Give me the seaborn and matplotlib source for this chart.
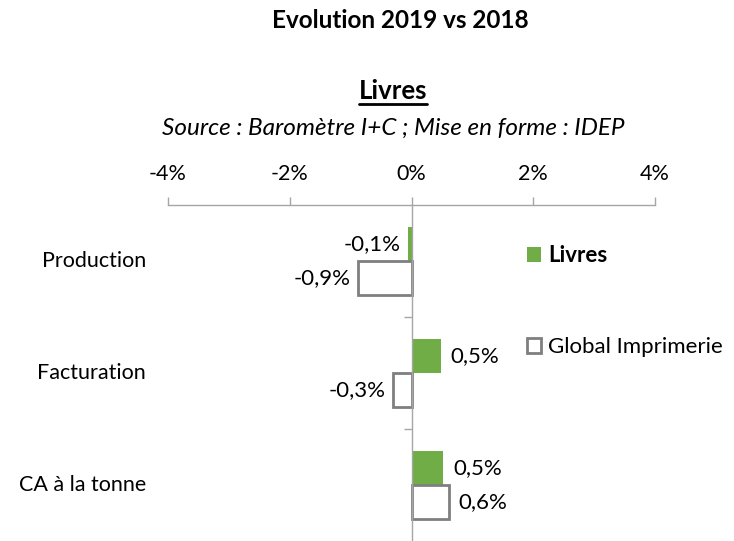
import matplotlib
matplotlib.use("Agg")
import matplotlib.pyplot as plt
import matplotlib.transforms as mtransforms
import seaborn as sns
import pandas as pd
from matplotlib.lines import Line2D

categories = ["Production", "Facturation", "CA à la tonne"]
livres = [-0.06, 0.48, 0.52]
global_imp = [-0.88, -0.31, 0.61]
series = ["Livres", "Global Imprimerie"]
xticks = [-4, -2, 0, 2, 4]

df = pd.DataFrame({
    "cat": categories * 2,
    "val": livres + global_imp,
    "serie": [series[0]] * 3 + [series[1]] * 3,
})

sns.set_theme(style="white")
plt.rcParams["font.family"] = ["Lato", "DejaVu Sans"]
plt.rcParams["text.color"] = "black"
plt.rcParams["xtick.labelcolor"] = "black"

W, H = 734, 541
fig = plt.figure(figsize=(W / 100, H / 100), dpi=100)
ax = fig.add_axes([168 / W, 0.0, (655 - 168) / W, 1 - 205 / H])

green = "#70AD47"
gray = "#7F7F7F"
sns.barplot(data=df, x="val", y="cat", hue="serie", order=categories,
            hue_order=series, orient="h", width=0.6,
            palette={series[0]: green, series[1]: "white"}, ax=ax, legend=False)

for i, cont in enumerate(ax.containers):
    for p in cont.patches:
        if i == 0:
            p.set_facecolor(green)
            p.set_edgecolor(green)
            p.set_linewidth(0)
        else:
            p.set_facecolor("white")
            p.set_edgecolor(gray)
            p.set_linewidth(2)

for i, cont in enumerate(ax.containers):
    vals = livres if i == 0 else global_imp
    for p, v in zip(cont.patches, vals):
        y = p.get_y() + p.get_height() / 2
        txt = f"{v:.1f}%".replace(".", ",")
        if v < 0:
            ax.annotate(txt, (v, y), xytext=(-5, 0), textcoords="offset points",
                        ha="right", va="center", fontsize=16, color="black")
        else:
            ax.annotate(txt, (v, y), xytext=(7, 0), textcoords="offset points",
                        ha="left", va="center", fontsize=16, color="black")

ax.set_xlim(-4, 4)
ax.set_ylim(2.5, -0.5)
ax.set_xticks(xticks)
ax.set_xticklabels([f"{t}%" for t in xticks], fontsize=15.5)
ax.xaxis.tick_top()
ax.tick_params(axis="x", which="both", top=True, bottom=False, length=6,
               width=1, color="#A6A6A6", pad=9, labelcolor="black")

for s in ["bottom", "right"]:
    ax.spines[s].set_visible(False)
ax.spines["top"].set_color("#A6A6A6")
ax.spines["top"].set_linewidth(1)
ax.spines["left"].set_position(("data", 0))
ax.spines["left"].set_color("#A6A6A6")
ax.spines["left"].set_linewidth(1)

ax.set_yticks([0.5, 1.5])
ax.set_yticklabels([])
ax.tick_params(axis="y", left=True, length=6, width=1, color="#A6A6A6")
ax.set_xlabel("")
ax.set_ylabel("")

tr = mtransforms.blended_transform_factory(ax.transAxes, ax.transData)
for k, c in enumerate(categories):
    ax.text(-0.045, k, c, transform=tr, ha="right", va="center",
            fontsize=15.5, color="black")

handles = [
    plt.Rectangle((0, 0), 1, 1, facecolor=green, edgecolor=green, linewidth=0),
    plt.Rectangle((0, 0), 1, 1, facecolor="white", edgecolor=gray, linewidth=2),
]
leg = fig.legend(handles, series, loc="upper left",
                 bbox_to_anchor=(527 / W, 1 - 245 / H), frameon=False,
                 fontsize=16, handlelength=0.65, handleheight=0.65,
                 handletextpad=0.3, labelspacing=3.2, borderpad=0,
                 borderaxespad=0)
leg.get_texts()[0].set_fontweight("bold")

fig.text(400 / W, 1 - 20 / H, "Evolution 2019 vs 2018", ha="center",
         va="center", fontsize=17.5, fontweight="bold", color="black")
t2 = fig.text(393 / W, 1 - 91 / H, "Livres", ha="center", va="center",
              fontsize=18.5, fontweight="bold", color="black")
fig.text(393 / W, 1 - 128 / H, "Source : Baromètre I+C ; Mise en forme : IDEP",
         ha="center", va="center", fontsize=17.5, style="italic", color="black")

fig.canvas.draw()
bb = t2.get_window_extent()
yline = (bb.y0 - 1) / H
fig.add_artist(Line2D([bb.x0 / W, bb.x1 / W], [yline, yline],
                      transform=fig.transFigure, color="black", linewidth=2))

fig.savefig("out.png", dpi=100)
